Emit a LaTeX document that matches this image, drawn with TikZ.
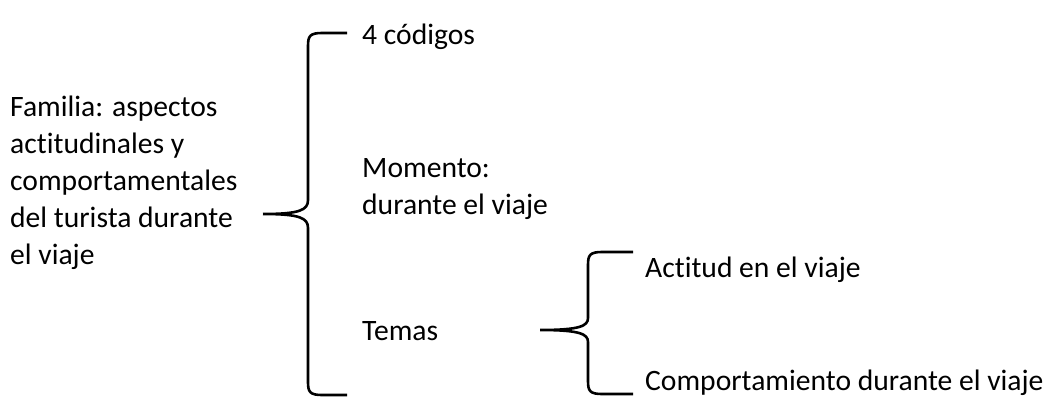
\documentclass[tikz,border=0pt]{standalone}
\usepackage{fontspec}
\setmainfont{Carlito}[Ligatures=NoCommon]
\usepackage{tikz}
\usetikzlibrary{positioning}
\tikzset{
  texto/.style={
    anchor=west,
    align=left,
    inner sep=0pt,
    font=\fontsize{29.6}{37}\selectfont
    },
  llave/.style={
    line width=2.6pt,
    line join=round
    }
}
\begin{document}
\begin{tikzpicture}[x=1pt,y=-1pt]
\useasboundingbox (0,0) rectangle (1053,402);
% textos
\node (familia) [texto] at (10,183) {Familia: aspectos\\actitudinales y\\comportamentales\\del turista durante\\el viaje};
\node (codigos) [texto] at (362,37) {4 códigos};
\node (momento) [texto] at (362,189) {Momento:\\durante el viaje};
\node (temas) [texto] at (362,331) {Temas};
\node (actitud) [texto] at (645,270) {Actitud en el viaje};
\node (comport) [texto] at (645,383) {Comportamiento durante el viaje};
% llave grande
\coordinate (g1) at (347,33);
\coordinate (g2) at (263,214);
\coordinate (g3) at (347,395);
\draw[llave] (g1) -- (322,33) .. controls (310,33) and (308,36) .. (308,46)
  -- (308,200) .. controls (308,210) and (300,214) .. (g2)
  (g2) .. controls (300,214) and (308,218) .. (308,228)
  -- (308,382) .. controls (308,392) and (310,395) .. (322,395) -- (g3);
% llave pequena
\coordinate (p1) at (633,252);
\coordinate (p2) at (540,330);
\coordinate (p3) at (633,394);
\draw[llave] (p1) -- (602,252) .. controls (590,252) and (588,255) .. (588,265)
  -- (588,318) .. controls (588,326) and (580,330) .. (p2)
  (p2) .. controls (580,330) and (588,334) .. (588,342)
  -- (588,381) .. controls (588,391) and (590,394) .. (602,394) -- (p3);
\end{tikzpicture}
\end{document}
